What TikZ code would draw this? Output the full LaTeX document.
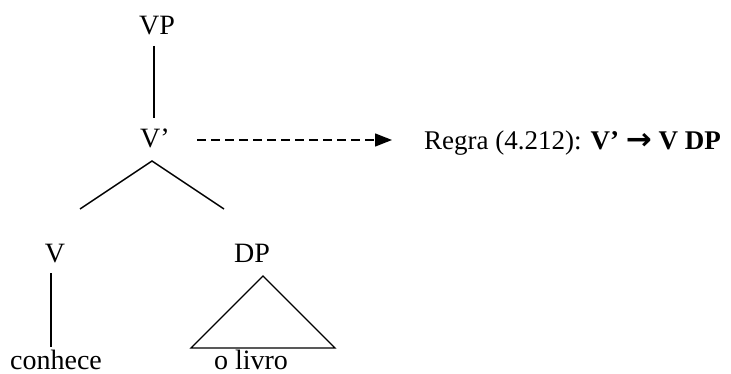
\documentclass[tikz,border=0pt]{standalone}
\usepackage{fontspec}
\setmainfont{Liberation Serif}
\newfontfamily\symfont{DejaVu Sans}
\usetikzlibrary{arrows.meta}
\begin{document}
\begin{tikzpicture}[x=1pt,y=-1pt,
  lbl/.style={anchor=base,inner sep=0pt,font=\fontsize{28}{31}\selectfont},
  rule/.style={anchor=base west,inner sep=0pt,font=\fontsize{27}{30}\selectfont},
  edge/.style={line width=1.4pt},
  dasharrow/.style={line width=1.4pt,dash pattern=on 9pt off 5pt,-{Triangle[length=17pt,width=13pt]}}]
\useasboundingbox (0,0) rectangle (731,374);
% labels
\node[lbl] (vp) at (157,35) {VP};
\node[lbl] (vbar) at (155,148) {V’};
\node[lbl] (v) at (55,262) {V};
\node[lbl] (dp) at (252,262) {DP};
\node[lbl] (conhece) at (56,369) {conhece};
\node[lbl] (olivro) at (251,369) {o livro};
\node[rule] (regra) at (424,150) {Regra (4.212): \textbf{V’ \raisebox{0.5pt}{\scalebox{1.15}[1.1]{\symfont\bfseries →}} V DP}};
% coordinates
\coordinate (vpb) at (154,46);
\coordinate (vbt) at (154,118);
\coordinate (apex) at (152,161);
\coordinate (bl) at (80,209);
\coordinate (br) at (224,209);
\coordinate (vb) at (51,273);
\coordinate (vc) at (51,347);
\coordinate (ta) at (263,276);
\coordinate (tl) at (191,348);
\coordinate (tr) at (335,348);
\coordinate (ds) at (197,140);
\coordinate (de) at (392,140);
% connectors
\draw[edge] (vpb) -- (vbt);
\draw[edge] (bl) -- (apex) -- (br);
\draw[edge] (vb) -- (vc);
\draw[edge,line join=miter] (ta) -- (tr) -- (tl) -- cycle;
\draw[dasharrow] (ds) -- (de);
\end{tikzpicture}
\end{document}
